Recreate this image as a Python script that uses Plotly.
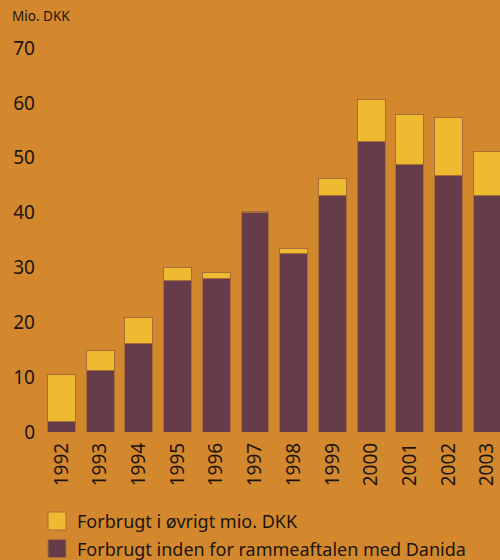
import plotly.graph_objects as go

years = ["1992", "1993", "1994", "1995", "1996", "1997", "1998", "1999", "2000", "2001", "2002", "2003"]
danida = [2.0, 11.3, 16.2, 27.7, 27.9, 40.0, 32.6, 43.1, 52.9, 48.8, 46.7, 43.1]
other = [8.4, 3.5, 4.7, 2.3, 1.1, 0.2, 0.9, 3.1, 7.7, 9.0, 10.7, 8.1]
label_other = "Forbrugt i øvrigt mio. DKK"
label_danida = "Forbrugt inden for rammeaftalen med Danida"
unit_label = "Mio. DKK"
y_ticks = [0, 10, 20, 30, 40, 50, 60, 70]

BG = "#D4882E"
PURPLE = "#673C4A"
YELLOW = "#EEBA30"
TXT = "#1c140c"
FONT = "Noto Sans"
EDGE = "#A86C36"

fig = go.Figure()
fig.add_trace(go.Bar(x=years, y=danida, name=label_danida,
                     marker=dict(color=PURPLE, line=dict(color=EDGE, width=1)),
                     showlegend=False))
fig.add_trace(go.Bar(x=years, y=other, name=label_other,
                     marker=dict(color=YELLOW, line=dict(color=EDGE, width=1)),
                     showlegend=False))

fig.update_layout(
    width=500, height=560,
    barmode="stack", bargap=0.28,
    paper_bgcolor=BG, plot_bgcolor=BG,
    margin=dict(l=42, r=0, t=48, b=128),
    font=dict(family=FONT, color=TXT, size=19),
    xaxis=dict(type="category", range=[-0.5, 11.33], tickangle=-90,
               showgrid=False, zeroline=False, showline=False, ticks="",
               tickfont=dict(size=19), ticklabelstandoff=6),
    yaxis=dict(range=[0, 70], tickvals=y_ticks, showgrid=False, zeroline=False,
               showline=False, ticks="", tickfont=dict(size=19), ticklabelstandoff=6),
)

fig.add_annotation(text=unit_label, xref="paper", yref="paper",
                   x=-32/458, y=1 + 32/384, xanchor="left", yanchor="middle",
                   showarrow=False, font=dict(size=13.5, color=TXT))

legend_items = [(YELLOW, label_other, 521), (PURPLE, label_danida, 548.5)]
for color, label, ypx in legend_items:
    yp = (432 - ypx) / 384
    fig.add_shape(type="rect", xref="paper", yref="paper",
                  x0=(48 - 42) / 458, x1=(66 - 42) / 458,
                  y0=yp - 9 / 384, y1=yp + 9 / 384,
                  fillcolor=color, line=dict(color=EDGE, width=1))
    fig.add_annotation(text=label, xref="paper", yref="paper",
                       x=(75 - 42) / 458, y=yp, xanchor="left", yanchor="middle",
                       showarrow=False, font=dict(size=18, color=TXT))

fig.write_html("out.html", config={"displayModeBar": False},
               post_script="document.body.style.margin='0px';document.body.style.background='" + BG + "';")
